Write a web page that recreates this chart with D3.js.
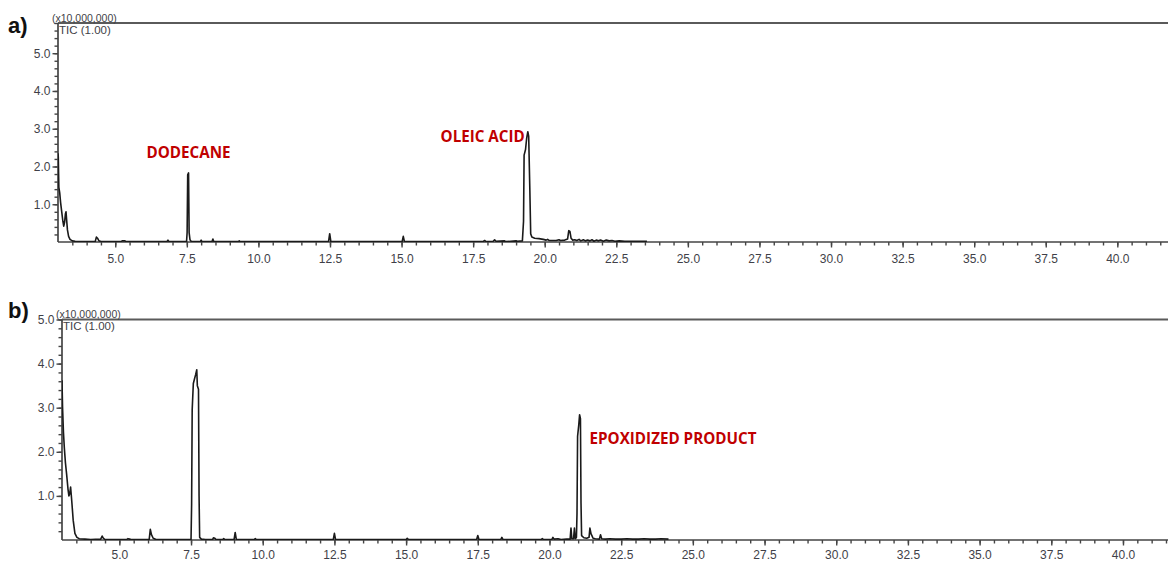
<!DOCTYPE html>
<html>
<head>
<meta charset="utf-8">
<script src="https://cdn.jsdelivr.net/npm/d3@7"></script>
<style>
  body { margin: 0; background: #fff; }
  svg { display: block; }
</style>
</head>
<body>
<svg id="chart" width="1168" height="562"></svg>
<script>
// Retention time (min) and TIC intensity (x10,000,000) — run a)
const timeA = [
  3.00, 3.01, 3.03, 3.06, 3.09, 3.13, 3.17, 3.20, 3.23, 3.26, 3.28, 3.30, 3.33, 3.37, 3.42, 3.50,
  3.60, 3.80, 4.30, 4.34, 4.38, 4.43, 4.50, 5.20, 5.24, 5.34, 5.38, 6.80, 6.84, 6.88,
  7.49, 7.51, 7.53, 7.56, 7.58, 7.61, 7.66, 7.97, 8.00, 8.03, 8.38, 8.41, 8.44, 9.30, 9.33, 9.36,
  12.45, 12.49, 12.53, 15.02, 15.06, 15.10, 17.85, 17.90, 17.95, 18.20, 18.25, 18.30, 18.60, 18.65,
  19.00, 19.05, 19.22, 19.26, 19.28, 19.33, 19.37, 19.41, 19.44, 19.48, 19.51, 19.55, 19.65, 19.80,
  19.95, 20.05, 20.10, 20.15, 20.40, 20.50, 20.55, 20.70, 20.80, 20.84, 20.88, 20.92, 20.98, 21.05,
  21.12, 21.20, 21.26, 21.35, 21.42, 21.50, 21.58, 21.65, 21.72, 21.80, 21.88, 21.95, 22.05, 22.15,
  22.25, 22.35, 22.45, 22.60, 22.80, 23.00, 23.20, 23.40, 23.57
];
const signalA = [
  2.35, 2.25, 1.45, 1.30, 1.05, 0.80, 0.55, 0.42, 0.52, 0.75, 0.80, 0.60, 0.32, 0.15, 0.07, 0.03,
  0.02, 0.01, 0.01, 0.13, 0.10, 0.03, 0.01, 0.01, 0.03, 0.03, 0.01, 0.01, 0.05, 0.01,
  0.01, 0.25, 1.78, 1.83, 0.25, 0.06, 0.01, 0.01, 0.05, 0.01, 0.01, 0.08, 0.01, 0.01, 0.03, 0.01,
  0.01, 0.22, 0.01, 0.01, 0.15, 0.01, 0.01, 0.04, 0.01, 0.02, 0.06, 0.02, 0.03, 0.01,
  0.03, 0.02, 0.03, 0.55, 2.30, 2.45, 2.75, 2.92, 2.80, 1.40, 0.22, 0.13, 0.10, 0.09,
  0.07, 0.05, 0.07, 0.04, 0.04, 0.06, 0.04, 0.05, 0.08, 0.30, 0.28, 0.10, 0.05, 0.06,
  0.04, 0.07, 0.03, 0.06, 0.03, 0.05, 0.03, 0.06, 0.02, 0.05, 0.03, 0.05, 0.02, 0.05,
  0.03, 0.04, 0.02, 0.03, 0.02, 0.02, 0.02, 0.02, 0.02
];

// Retention time (min) and TIC intensity (x10,000,000) — run b)
const timeB = [
  3.00, 3.02, 3.05, 3.08, 3.12, 3.16, 3.21, 3.24, 3.27, 3.30, 3.32, 3.35, 3.39, 3.45, 3.52, 3.60,
  3.80, 4.00, 4.35, 4.40, 4.44, 4.50, 5.25, 5.30, 5.36, 5.40, 6.04, 6.08, 6.12, 6.18, 6.28,
  7.50, 7.52, 7.54, 7.58, 7.62, 7.66, 7.70, 7.72, 7.76, 7.78, 7.80, 7.86, 8.00,
  8.25, 8.28, 8.33, 8.37, 8.60, 8.64, 8.68, 9.00, 9.04, 9.08, 9.70, 9.74, 9.78,
  12.46, 12.50, 12.54, 15.00, 15.04, 15.08, 17.46, 17.50, 17.54, 18.30, 18.34, 18.38,
  19.70, 19.75, 19.80, 20.08, 20.12, 20.16, 20.30, 20.40, 20.60, 20.72, 20.75, 20.78, 20.84,
  20.87, 20.90, 20.94, 20.96, 20.98, 21.02, 21.05, 21.08, 21.10, 21.12, 21.20, 21.30, 21.38,
  21.41, 21.45, 21.48, 21.52, 21.60, 21.74, 21.78, 21.82, 21.95, 22.10, 22.30, 22.50, 22.70,
  22.90, 23.10, 23.30, 23.50, 23.70, 23.90, 24.15
];
const signalB = [
  3.62, 3.00, 2.45, 2.10, 1.75, 1.50, 1.15, 1.00, 1.05, 1.20, 1.05, 0.80, 0.45, 0.15, 0.06, 0.03,
  0.02, 0.01, 0.02, 0.09, 0.04, 0.01, 0.01, 0.03, 0.02, 0.01, 0.01, 0.24, 0.12, 0.04, 0.01,
  0.01, 0.80, 2.95, 3.55, 3.65, 3.75, 3.86, 3.50, 3.42, 1.00, 0.06, 0.02, 0.01,
  0.01, 0.05, 0.04, 0.01, 0.01, 0.03, 0.01, 0.01, 0.17, 0.01, 0.01, 0.03, 0.01,
  0.01, 0.15, 0.01, 0.01, 0.04, 0.01, 0.01, 0.10, 0.01, 0.01, 0.06, 0.01,
  0.01, 0.03, 0.01, 0.01, 0.06, 0.02, 0.03, 0.01, 0.02, 0.02, 0.27, 0.03, 0.03,
  0.27, 0.03, 0.06, 0.60, 2.35, 2.60, 2.84, 2.75, 0.83, 0.10, 0.05, 0.04, 0.06,
  0.27, 0.14, 0.10, 0.04, 0.03, 0.02, 0.12, 0.03, 0.02, 0.03, 0.02, 0.02, 0.03,
  0.02, 0.02, 0.03, 0.02, 0.02, 0.03, 0.02
];

// Axis labelling
const xTickLabels = ["5.0", "7.5", "10.0", "12.5", "15.0", "17.5", "20.0", "22.5", "25.0",
                     "27.5", "30.0", "32.5", "35.0", "37.5", "40.0"];
const yTickLabels = ["1.0", "2.0", "3.0", "4.0", "5.0"];
const scaleNote = "(x10,000,000)";
const traceNote = "TIC (1.00)";

// Peak names with the retention time / height of the peak they mark
const peakNamesA = ["DODECANE", "OLEIC ACID"];
const peakTimesA = [7.56, 19.41];
const peakHeightsA = [1.83, 2.92];
const peakNamesB = ["EPOXIDIZED PRODUCT"];
const peakTimesB = [21.05];
const peakHeightsB = [2.84];

const svg = d3.select("#chart");
const W = 1168;
const AXIS = "#454545";
const TEXT = "#3f3f48";
const RED = "#c00000";
const SANS = "Liberation Sans, Arial, sans-serif";

function drawPanel(p) {
  const g = svg.append("g");
  const x = d3.scaleLinear().domain([3.0, p.xEnd]).range([p.left, W]);
  const y = d3.scaleLinear().domain([0, p.yMax]).range([p.bottom, p.top]);

  const clipId = "clip-" + p.key;
  svg.append("clipPath").attr("id", clipId)
    .append("rect").attr("x", p.left).attr("y", p.top - 2)
    .attr("width", W - p.left).attr("height", p.bottom - p.top + 2);

  // frame: top border
  g.append("line").attr("x1", p.left).attr("x2", W).attr("y1", p.top).attr("y2", p.top)
    .attr("stroke", "#5a5a5a").attr("stroke-width", 2);

  // x ticks: minor every 0.5 min, major every 2.5 min
  const xMinor = d3.range(3.5, p.xEnd, 0.5);
  const xMajor = xTickLabels.map(Number);
  const xAxisMinor = d3.axisBottom(x).tickValues(xMinor).tickSize(3.5).tickFormat("");
  const xAxisMajor = d3.axisBottom(x).tickValues(xMajor).tickSize(5.5)
    .tickFormat((d, i) => xTickLabels[i]).tickPadding(5);
  const gxm = g.append("g").attr("transform", `translate(0,${p.bottom})`).call(xAxisMinor);
  const gx = g.append("g").attr("transform", `translate(0,${p.bottom})`).call(xAxisMajor);
  [gxm, gx].forEach(a => {
    a.select(".domain").remove();
    a.selectAll("line").attr("stroke", AXIS).attr("stroke-width", 1.4);
  });
  gx.selectAll("text").attr("fill", TEXT).attr("font-family", SANS)
    .attr("font-size", 12).attr("dy", p.xLabelDy);
  g.append("line").attr("x1", p.left).attr("x2", W).attr("y1", p.bottom).attr("y2", p.bottom)
    .attr("stroke", AXIS).attr("stroke-width", 1.7);

  // y ticks: minor every 0.2, major every 1.0
  const yMinor = d3.range(0.2, p.yMax + 0.01, 0.2);
  const yMajor = yTickLabels.map(Number);
  const yAxisMinor = d3.axisLeft(y).tickValues(yMinor).tickSize(3.5).tickFormat("");
  const yAxisMajor = d3.axisLeft(y).tickValues(yMajor).tickSize(5.5)
    .tickFormat((d, i) => yTickLabels[i]).tickPadding(2);
  const gym = g.append("g").attr("transform", `translate(${p.left},0)`).call(yAxisMinor);
  const gy = g.append("g").attr("transform", `translate(${p.left},0)`).call(yAxisMajor);
  [gym, gy].forEach(a => {
    a.select(".domain").remove();
    a.selectAll("line").attr("stroke", AXIS).attr("stroke-width", 1.4);
  });
  gy.selectAll("text").attr("fill", TEXT).attr("font-family", SANS).attr("font-size", 12);
  g.append("line").attr("x1", p.left).attr("x2", p.left).attr("y1", p.top).attr("y2", p.bottom)
    .attr("stroke", AXIS).attr("stroke-width", 1.7);

  // chromatogram trace
  const pts = p.time.map((t, i) => [t, p.signal[i]]);
  g.append("path").datum(pts)
    .attr("clip-path", `url(#${clipId})`)
    .attr("fill", "none").attr("stroke", "#1a1a1a").attr("stroke-width", 1.6)
    .attr("stroke-linejoin", "round")
    .attr("d", d3.line().x(d => x(d[0])).y(d => y(d[1])));

  // header notes
  g.append("text").attr("x", p.left - 6).attr("y", p.top - 1.5)
    .attr("font-family", SANS).attr("font-size", 10.5)
    .attr("fill", TEXT).text(scaleNote);
  g.append("text").attr("x", p.left + 1).attr("y", p.top + 10.5)
    .attr("font-family", SANS).attr("font-size", 11.5)
    .attr("fill", TEXT).text(traceNote);

  // panel letter
  g.append("text").attr("x", 8).attr("y", p.letterY)
    .attr("font-family", SANS).attr("font-weight", "bold")
    .attr("font-size", 22).attr("fill", "#111").text(p.letter);

  // peak names
  p.names.forEach((name, i) => {
    const o = p.nameOffsets[i];
    g.append("text")
      .attr("x", x(p.peakTimes[i]) + o.dx)
      .attr("y", y(p.peakHeights[i]) + o.dy)
      .attr("text-anchor", o.anchor)
      .attr("font-family", "Open Sans, Liberation Sans, sans-serif")
      .attr("font-weight", "bold").attr("font-size", 15.2)
      .attr("fill", RED).text(name);
  });

  return { x, y };
}

drawPanel({
  key: "a", letter: "a)", letterY: 33,
  left: 58, top: 23, bottom: 242, yMax: 5.8, xEnd: 41.77, xLabelDy: "0.85em",
  time: timeA, signal: signalA,
  names: peakNamesA, peakTimes: peakTimesA, peakHeights: peakHeightsA,
  nameOffsets: [{ dx: 0, dy: -15, anchor: "middle" }, { dx: -3, dy: 10, anchor: "end" }]
});

drawPanel({
  key: "b", letter: "b)", letterY: 318,
  left: 62, top: 319.5, bottom: 540, yMax: 5.0, xEnd: 41.57, xLabelDy: "0.7em",
  time: timeB, signal: signalB,
  names: peakNamesB, peakTimes: peakTimesB, peakHeights: peakHeightsB,
  nameOffsets: [{ dx: 10, dy: 29, anchor: "start" }]
});
</script>
</body>
</html>
